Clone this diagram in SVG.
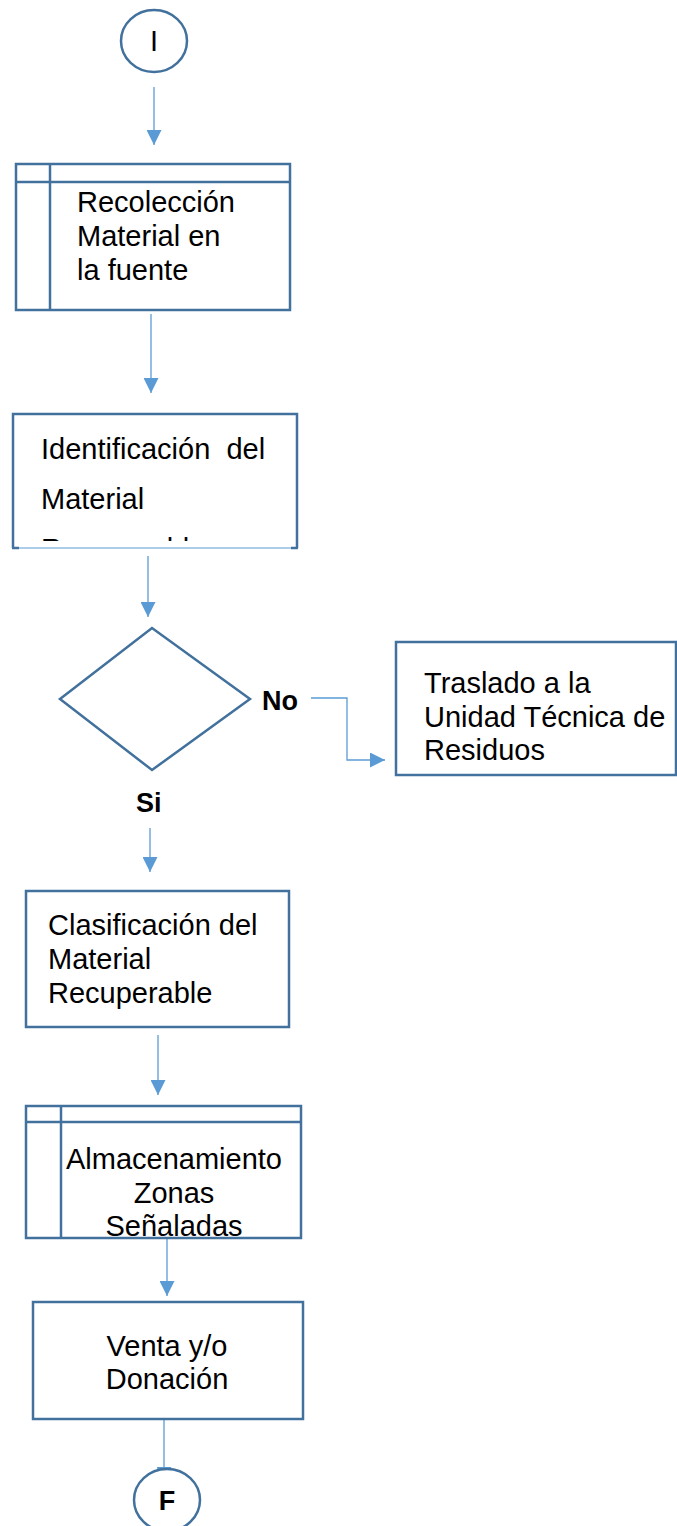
<svg xmlns="http://www.w3.org/2000/svg" width="677" height="1526" viewBox="0 0 677 1526">
<style>
.node{fill:#fff;stroke:#41719c;stroke-width:2.5}
.ln{fill:none;stroke:#41719c;stroke-width:2.5}
.conn{fill:none;stroke:#5b9bd5;stroke-width:1.3}
.t{font-family:"Liberation Sans",Arial,sans-serif;font-size:29px;fill:#000;white-space:pre}
.b{font-family:"Liberation Sans",Arial,sans-serif;font-size:27px;font-weight:bold;fill:#000}
</style>
<defs>
<marker id="ah" markerWidth="15" markerHeight="15" viewBox="0 0 15 15" refX="15" refY="7.5" orient="auto" markerUnits="userSpaceOnUse">
<path d="M0,0 L15,7.5 L0,15 Z" fill="#5b9bd5"/>
</marker>
<clipPath id="clip2"><rect x="13" y="414" width="284" height="127"/></clipPath>
</defs>
<g id="connectors">
<line class="conn" x1="154" y1="87" x2="154" y2="145" marker-end="url(#ah)"/>
<line class="conn" x1="151" y1="314" x2="151" y2="393" marker-end="url(#ah)"/>
<line class="conn" x1="148" y1="556" x2="148" y2="617" marker-end="url(#ah)"/>
<polyline class="conn" points="311,698 347,698 347,760 385,760" marker-end="url(#ah)"/>
<line class="conn" x1="150" y1="828" x2="150" y2="872" marker-end="url(#ah)"/>
<line class="conn" x1="158" y1="1035" x2="158" y2="1095" marker-end="url(#ah)"/>
<line class="conn" x1="167" y1="1238" x2="167" y2="1296" marker-end="url(#ah)"/>
<line class="conn" x1="164" y1="1419" x2="164" y2="1482" marker-end="url(#ah)"/>
</g>
<g id="start">
<ellipse class="node" cx="154" cy="41" rx="33" ry="31"/>
<text class="t" x="154" y="51" text-anchor="middle">I</text>
</g>
<g id="recoleccion">
<rect class="node" x="16" y="164" width="274" height="146"/>
<line class="ln" x1="16" y1="182" x2="290" y2="182"/>
<line class="ln" x1="50" y1="164" x2="50" y2="310"/>
<text class="t" x="77" y="212">Recolección</text>
<text class="t" x="77" y="246">Material en</text>
<text class="t" x="77" y="280">la fuente</text>
</g>
<g id="identificacion">
<rect x="13" y="414" width="284" height="134" fill="#fff"/>
<path class="ln" d="M13,548 V414 H297 V548"/>
<line x1="13" y1="548" x2="297" y2="548" stroke="#5b9bd5" stroke-width="1.2"/>
<line class="ln" x1="12" y1="548" x2="19" y2="548"/>
<line class="ln" x1="291" y1="548" x2="298" y2="548"/>
<g clip-path="url(#clip2)">
<text class="t" x="41" y="459" xml:space="preserve">Identificación  del</text>
<text class="t" x="41" y="509">Material</text>
<text class="t" x="41" y="559">Recuperable</text>
</g>
</g>
<g id="decision">
<polygon class="node" points="60,699 152,628 250,699 152,770"/>
<text class="b" x="262" y="710">No</text>
<text class="b" x="136" y="812">Si</text>
</g>
<g id="traslado">
<rect class="node" x="396" y="642" width="280" height="133"/>
<text class="t" x="424" y="693">Traslado a la</text>
<text class="t" x="424" y="727">Unidad Técnica de</text>
<text class="t" x="424" y="760">Residuos</text>
</g>
<g id="clasificacion">
<rect class="node" x="26" y="891" width="263" height="136"/>
<text class="t" x="48" y="935">Clasificación del</text>
<text class="t" x="48" y="969">Material</text>
<text class="t" x="48" y="1003">Recuperable</text>
</g>
<g id="almacenamiento">
<rect class="node" x="26" y="1106" width="275" height="132"/>
<line class="ln" x1="26" y1="1122" x2="301" y2="1122"/>
<line class="ln" x1="61" y1="1106" x2="61" y2="1238"/>
<text class="t" x="174" y="1169" text-anchor="middle">Almacenamiento</text>
<text class="t" x="174" y="1203" text-anchor="middle">Zonas</text>
<text class="t" x="174" y="1236" text-anchor="middle">Señaladas</text>
</g>
<g id="venta">
<rect class="node" x="33" y="1302" width="270" height="117"/>
<text class="t" x="167" y="1356" text-anchor="middle">Venta y/o</text>
<text class="t" x="167" y="1389" text-anchor="middle">Donación</text>
</g>
<g id="end">
<ellipse class="node" cx="167" cy="1500" rx="33" ry="31"/>
<text class="b" x="167" y="1510" text-anchor="middle">F</text>
</g>
</svg>
